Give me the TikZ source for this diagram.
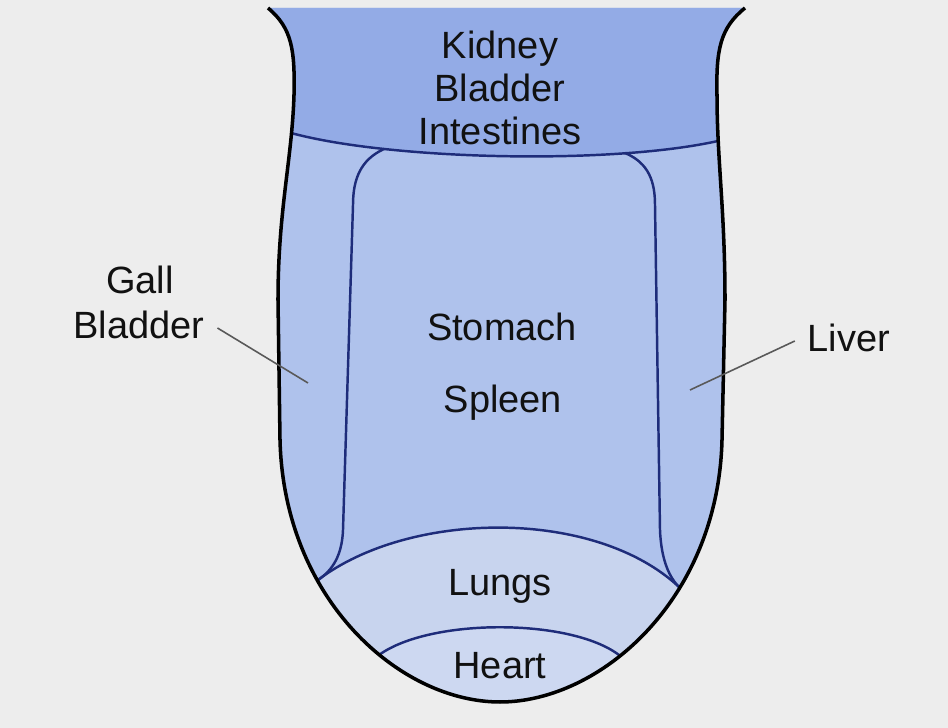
\documentclass[tikz,border=0pt]{standalone}
\usepackage{fontspec}
\setmainfont{Liberation Sans}
\usepackage{xcolor}
\usepackage{tikz}
\usetikzlibrary{positioning}
\definecolor{page}{HTML}{EDEDED}
\definecolor{band}{HTML}{93ABE6}
\definecolor{body}{HTML}{AFC2EC}
\definecolor{tip}{HTML}{C8D4EE}
\definecolor{heartc}{HTML}{CDD8F1}
\definecolor{seamc}{HTML}{1E2C7A}
\definecolor{ink}{HTML}{111111}
\newcommand{\tongueshape}{(268,8) .. controls (292,28) and (295,50) .. (294,95)
  .. controls (292,160) and (278,210) .. (278,300) -- (280,440)
  .. controls (284,600) and (400,702) .. (500,702)
  .. controls (600,702) and (718,600) .. (722,440) -- (725,300)
  .. controls (725,210) and (717,160) .. (717,95)
  .. controls (716,50) and (720,28) .. (745,8)}

\begin{document}
\begin{tikzpicture}[
    x=0.01cm,y=-0.01cm,
    organ/.style={inner sep=0pt,text height=8pt,text depth=2.2pt,font=\fontsize{10.8}{12}\selectfont,text=ink},
    side/.style={organ,inner sep=3.5pt},
    seam/.style={draw=seamc,line width=0.7pt},
    rim/.style={draw=black,line width=1pt},
    leader/.style={draw=black!65,line width=0.45pt}
  ]
    \useasboundingbox (0,0) rectangle (948,728);
    \fill[page] (0,0) rectangle (948,728);
    % tongue areas
    \fill[body] \tongueshape -- cycle;
    \begin{scope}
      \clip \tongueshape -- cycle;
      \fill[band] (200,0) -- (800,0) -- (800,141) -- (718,141)
        .. controls (610,165) and (390,160) .. (291,133) -- (200,133) -- cycle;
      \fill[tip] (318,580) .. controls (410,510) and (595,508) .. (679,587)
        -- (800,587) -- (800,740) -- (200,740) -- (200,580) -- cycle;
      \fill[heartc] (379,655) .. controls (430,618) and (570,618) .. (619,655)
        -- (800,655) -- (800,740) -- (200,740) -- (200,655) -- cycle;
    \end{scope}
    % seams
    \draw[seam] (291,133) .. controls (390,160) and (610,165) .. (718,141);
    \draw[seam] (384,149) .. controls (360,160) and (353,180) .. (353,205)
      -- (343,530) .. controls (342,555) and (333,570) .. (318,580);
    \draw[seam] (625,153) .. controls (649,163) and (655,182) .. (655,205)
      -- (660,530) .. controls (661,555) and (667,575) .. (679,587);
    \draw[seam] (318,580) .. controls (410,510) and (595,508) .. (679,587);
    \draw[seam] (379,655) .. controls (430,618) and (570,618) .. (619,655);
    \draw[rim] \tongueshape;
    % labels
    \node[organ] (kidney) at (500,48) {Kidney};
    \node[organ] (bladder) at (500,91) {Bladder};
    \node[organ] (intestines) at (500,134) {Intestines};
    \node[organ] (stomach) at (502,330) {Stomach};
    \node[organ] (spleen) at (503,402) {Spleen};
    \node[organ] (lungs) at (500,585) {Lungs};
    \node[organ] (heart) at (500,668) {Heart};
    \node[side] (gall) at (140,283) {Gall};
    \node[side] (gallbladder) at (139,328) {Bladder};
    \node[side] (liver) at (849,341) {Liver};
    \coordinate (gallpt) at (308,383);
    \coordinate (liverpt) at (690,390);
    \draw[leader] (gallbladder.east) -- (gallpt);
    \draw[leader] (liver.west) -- (liverpt);
  \end{tikzpicture}
\end{document}
